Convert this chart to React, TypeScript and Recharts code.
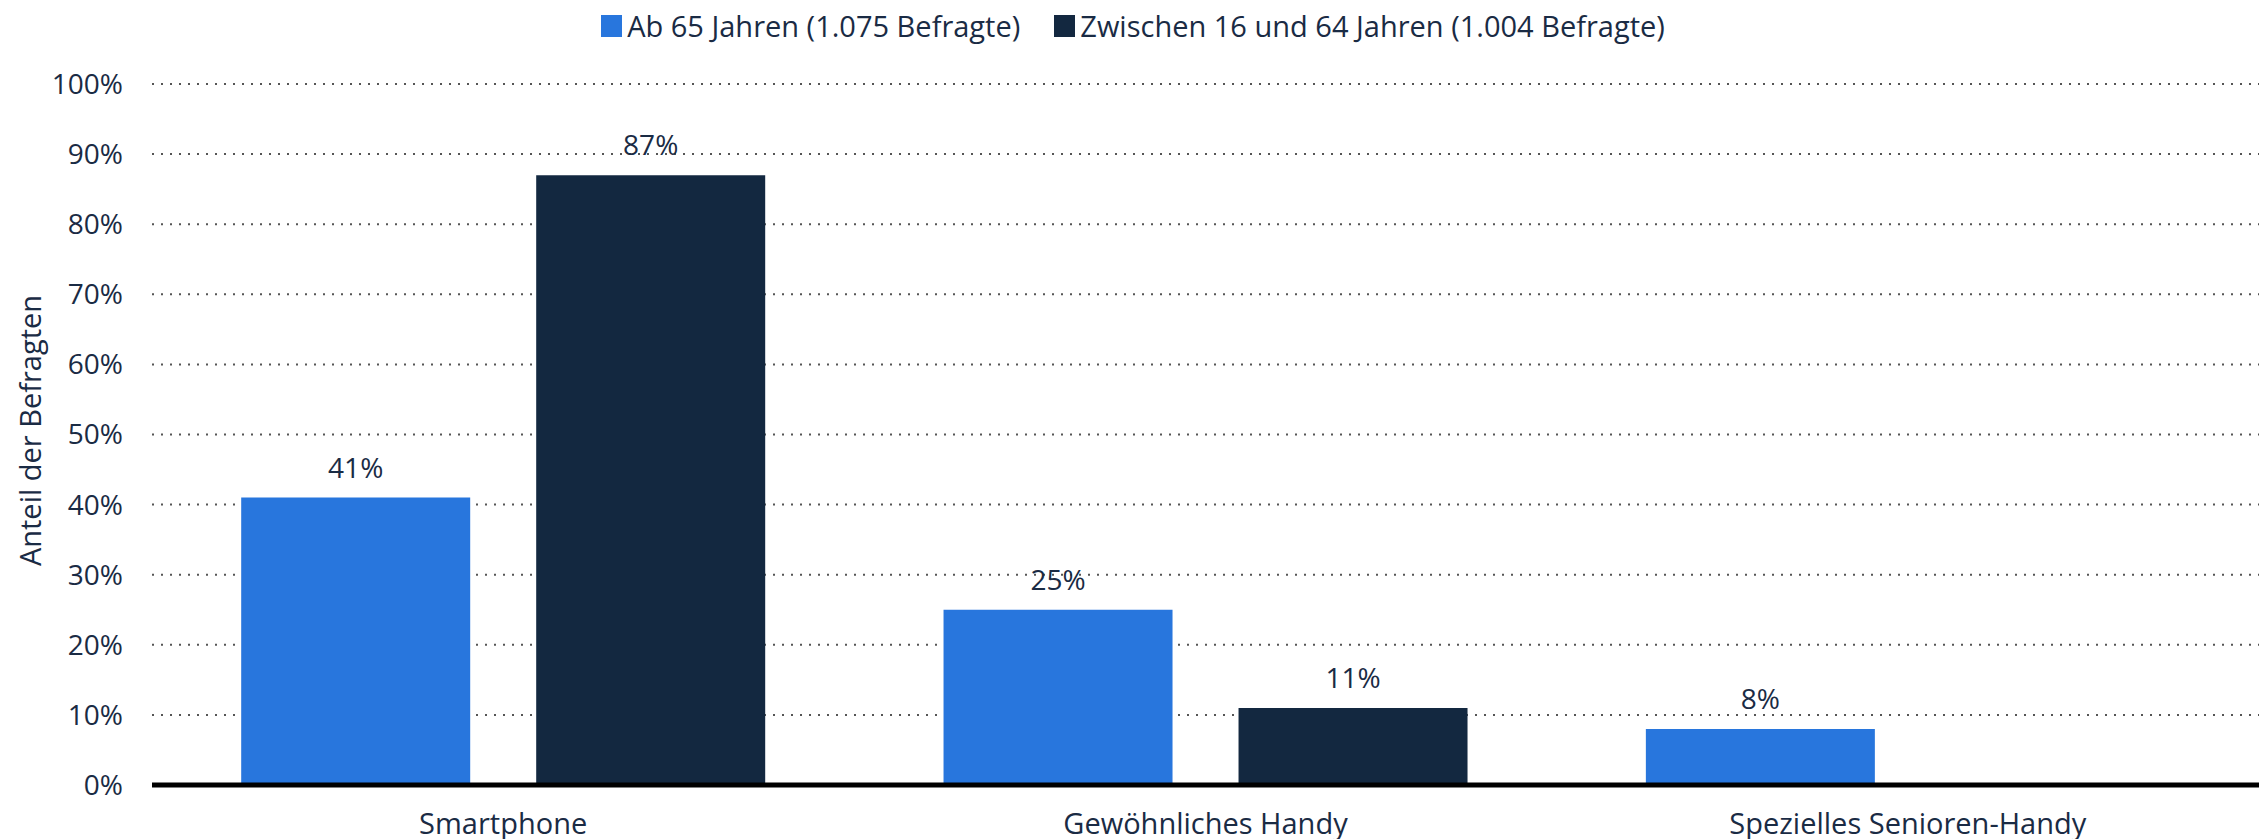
import React from "react";
import {
  BarChart,
  Bar,
  XAxis,
  YAxis,
  CartesianGrid,
  Legend,
  LabelList,
} from "recharts";

const categories = ["Smartphone", "Gewöhnliches Handy", "Spezielles Senioren-Handy"];
const ab65 = [41, 25, 8];
const zwischen16und64: (number | null)[] = [87, 11, null];
const yTicks = [0, 10, 20, 30, 40, 50, 60, 70, 80, 90, 100];

const seriesNames = {
  ab65: "Ab 65 Jahren (1.075 Befragte)",
  jung: "Zwischen 16 und 64 Jahren (1.004 Befragte)",
};

const BLUE = "#2876dd";
const DARK = "#132840";
const TEXT = "#1a2b44";

const data = categories.map((name, i) => ({
  name,
  ab65: ab65[i],
  jung: zwischen16und64[i],
}));

function LegendBox() {
  const items = [
    { label: seriesNames.ab65, color: BLUE },
    { label: seriesNames.jung, color: DARK },
  ];
  return (
    <div
      style={{
        height: 84,
        boxSizing: "border-box",
        paddingTop: 7,
        display: "flex",
        justifyContent: "center",
        alignItems: "flex-start",
      }}
    >
      {items.map((it, i) => (
        <div
          key={it.label}
          style={{
            display: "flex",
            alignItems: "center",
            marginRight: i === 0 ? 34 : 0,
          }}
        >
          <span
            style={{
              display: "inline-block",
              width: 21,
              height: 22,
              background: it.color,
              marginRight: 5,
            }}
          />
          <span style={{ fontSize: 29, color: TEXT, lineHeight: "38px" }}>
            {it.label}
          </span>
        </div>
      ))}
    </div>
  );
}

function YLabel(props: any) {
  const vb = props.viewBox || { y: 84, height: 701 };
  const cy = vb.y + vb.height / 2 - 4;
  const cx = 29;
  return (
    <text
      x={cx}
      y={cy}
      transform={`rotate(-90 ${cx} ${cy})`}
      textAnchor="middle"
      dominantBaseline="central"
      fill={TEXT}
      fontSize={29}
    >
      Anteil der Befragten
    </text>
  );
}

const pct = (v: any) => (v == null ? "" : `${v}%`);

export default function App() {
  return (
    <div
      style={{
        position: "absolute",
        left: 0,
        top: 0,
        width: 2266,
        height: 839,
        background: "#fff",
        fontFamily: "'Open Sans', sans-serif",
      }}
    >
      <BarChart
        width={2266}
        height={839}
        data={data}
        margin={{ top: 0, right: 7, bottom: 0, left: 0 }}
        barCategoryGap="12.7%"
        barGap={66}
      >
        <Legend
          verticalAlign="top"
          content={() => <LegendBox />}
          wrapperStyle={{ left: 0, width: 2266, top: 0 }}
        />
        <CartesianGrid
          vertical={false}
          stroke="#555"
          strokeWidth={2}
          strokeDasharray="2 7"
        />
        <XAxis
          dataKey="name"
          tickLine={false}
          axisLine={{ stroke: "#000", strokeWidth: 5 }}
          tickSize={0}
          tickMargin={28}
          height={54}
          tick={{ fontSize: 29, fill: TEXT }}
        />
        <YAxis
          domain={[0, 100]}
          ticks={yTicks}
          tickFormatter={(v: number) => `${v}%`}
          axisLine={false}
          tickLine={false}
          tickSize={0}
          tickMargin={29}
          width={152}
          tick={{ fontSize: 28, fill: TEXT }}
          label={YLabel}
        />
        <Bar dataKey="ab65" name={seriesNames.ab65} fill={BLUE} isAnimationActive={false}>
          <LabelList
            dataKey="ab65"
            position="top"
            offset={20}
            fill={TEXT}
            fontSize={28}
            formatter={pct}
          />
        </Bar>
        <Bar dataKey="jung" name={seriesNames.jung} fill={DARK} isAnimationActive={false}>
          <LabelList
            dataKey="jung"
            position="top"
            offset={20}
            fill={TEXT}
            fontSize={28}
            formatter={pct}
          />
        </Bar>
      </BarChart>
    </div>
  );
}
